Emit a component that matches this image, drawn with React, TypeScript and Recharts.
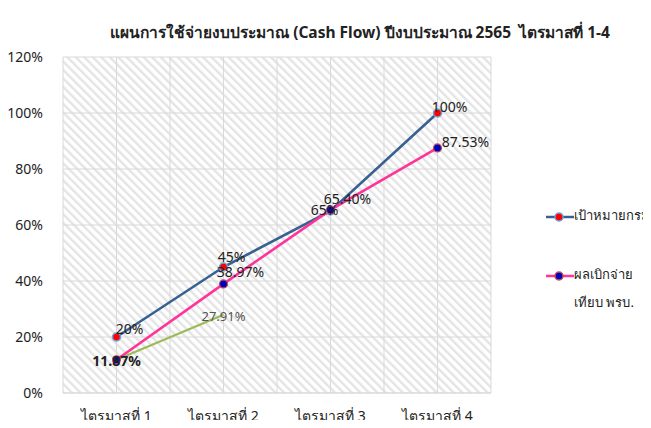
import { LineChart, Line, XAxis, YAxis, CartesianGrid, LabelList } from "recharts";

const quarters = ["ไตรมาสที่ 1", "ไตรมาสที่ 2", "ไตรมาสที่ 3", "ไตรมาสที่ 4"];
const target = [20, 45, 65, 100];
const actual = [11.87, 38.97, 65.4, 87.53];
const actualQ2 = [11.87, 27.91, null, null];
const yTicks = [0, 20, 40, 60, 80, 100, 120];

const targetLabels = ["20%", "45%", "65%", "100%"];
const actualLabels = ["11.87%", "38.97%", "65.40%", "87.53%"];
const greenLabels = ["", "27.91%", "", ""];

const data = quarters.map((q, i) => ({
  name: q,
  target: target[i],
  actual: actual[i],
  green: actualQ2[i],
}));

const FONT = "Tahoma, 'Noto Sans', 'DejaVu Sans', sans-serif";

// label nudges per point
const targetNudge = [[13, -3], [8, -5], [-6, 4], [12, -1]];
const actualNudge = [[0, 6], [17, -7], [17, -6], [28, -1]];

function makeLabel(texts: string[], nudge: number[][] | null, opts: { boldFirst?: boolean; fill?: string; size?: number }) {
  return (props: any) => {
    const { x, y, index } = props;
    const t = texts[index];
    if (!t) return null;
    const [dx, dy] = nudge ? nudge[index] : [0, 6];
    return (
      <text
        x={x + dx}
        y={y + dy}
        textAnchor="middle"
        fontFamily={FONT}
        fontSize={opts.size ?? 14}
        fontWeight={opts.boldFirst && index === 0 ? 700 : 400}
        fill={opts.fill ?? "#222"}
      >
        {t}
      </text>
    );
  };
}

function LegendItem({ color, fill, ring, label, sub }: any) {
  return (
    <div style={{ display: "flex", alignItems: "flex-start", marginBottom: 20, whiteSpace: "nowrap" }}>
      <svg width={28} height={14} style={{ marginTop: 2, flexShrink: 0 }}>
        <line x1={0} y1={7} x2={28} y2={7} stroke={color} strokeWidth={2.5} />
        <circle cx={13} cy={7} r={4} fill={fill} stroke={ring} strokeWidth={1.5} />
      </svg>
      <div style={{ fontSize: 13, lineHeight: "28px", marginTop: -7, color: "#222" }}>
        {label}
        {sub && <div>{sub}</div>}
      </div>
    </div>
  );
}

export default function App() {
  return (
    <div style={{ position: "relative", width: 643, height: 412, fontFamily: FONT }}>
      <div style={{ position: "absolute", left: -3, top: -3, width: 640, height: 410, borderLeft: "1px solid #D9D9D9", borderTop: "1px solid #D9D9D9" }} />
      <div style={{ position: "absolute", left: 52, width: 600, top: 12, textAlign: "center", fontSize: 15.5, fontWeight: 700, color: "#222" }}>
        แผนการใช้จ่ายงบประมาณ (Cash Flow) ปีงบประมาณ 2565&nbsp; ไตรมาสที่ 1-4
      </div>
      <LineChart width={643} height={412} data={data} style={{ overflow: "visible" }} margin={{ top: 49, right: 160, left: 0, bottom: 2 }}>
        <defs>
          <pattern id="hatch" width={6} height={6} patternUnits="userSpaceOnUse" patternTransform="rotate(-45)">
            <rect x={0} y={0} width={6} height={6} fill="#fff" />
            <rect x={0} y={0} width={2.4} height={6} fill="#E4E4E4" />
          </pattern>
        </defs>
        <CartesianGrid
          fill="url(#hatch)"
          fillOpacity={1}
          stroke="#D9D9D9"
          verticalCoordinatesGenerator={({ offset }: any) =>
            Array.from({ length: quarters.length * 2 + 1 }, (_, i) => offset.left + (offset.width * i) / (quarters.length * 2))
          }
        />
        <XAxis
          dataKey="name"
          axisLine={{ stroke: "#D9D9D9" }}
          tickLine={false}
          height={25}
          padding={{ left: 53.5, right: 53.5 }}
          tick={{ fontSize: 14, fill: "#222", fontFamily: FONT, dy: 10 }}
        />
        <YAxis
          domain={[0, 120]}
          ticks={yTicks}
          width={55}
          axisLine={false}
          tickLine={false}
          tickFormatter={(v) => `${v}%`}
          tick={{ fontSize: 14, fill: "#222", fontFamily: FONT, dx: -12 }}
        />
        <Line dataKey="green" stroke="#9BBB59" strokeWidth={2.2} dot={false} isAnimationActive={false} connectNulls={false}>
          <LabelList content={makeLabel(greenLabels, null, { fill: "#555", size: 13 })} />
        </Line>
        <Line
          dataKey="target"
          stroke="#386192"
          strokeWidth={2.6}
          dot={{ r: 4, fill: "#FF0000", stroke: "#6FA0D8", strokeWidth: 1.5 }}
          isAnimationActive={false}
        >
          <LabelList content={makeLabel(targetLabels, targetNudge, {})} />
        </Line>
        <Line
          dataKey="actual"
          stroke="#FF3399"
          strokeWidth={2.6}
          dot={{ r: 4, fill: "#0000C0", stroke: "#C0504D", strokeWidth: 1.2 }}
          isAnimationActive={false}
        >
          <LabelList content={makeLabel(actualLabels, actualNudge, { boldFirst: true })} />
        </Line>
      </LineChart>
      <div style={{ position: "absolute", left: 538, top: 200 }}>
        <LegendItem color="#386192" fill="#FF0000" ring="#6FA0D8" label="เป้าหมายกรม" />
        <div style={{ height: 18 }} />
        <LegendItem color="#FF3399" fill="#0000C0" ring="#C0504D" label="ผลเบิกจ่าย" sub="เทียบ พรบ." />
      </div>
    </div>
  );
}
